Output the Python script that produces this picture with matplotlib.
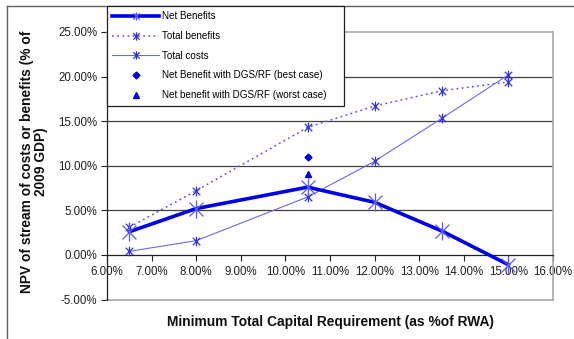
import matplotlib
matplotlib.use("Agg")
import matplotlib.pyplot as plt
from matplotlib.path import Path
from matplotlib.lines import Line2D
from matplotlib.ticker import FuncFormatter, MultipleLocator

plt.rcParams['font.family'] = ['Liberation Sans', 'DejaVu Sans']

# ---- data ----
capital_req = [6.5, 8.0, 10.5, 12.0, 13.5, 15.0]
net_benefits = [2.6, 5.2, 7.6, 5.9, 2.7, -1.1]
total_benefits = [3.1, 7.2, 14.3, 16.7, 18.4, 19.4]
total_costs = [0.4, 1.6, 6.5, 10.5, 15.3, 20.2]
dgs_x = [10.5]
dgs_best = [11.0]
dgs_worst = [9.1]
labels = ["Net Benefits", "Total benefits", "Total costs",
          "Net Benefit with DGS/RF (best case)",
          "Net benefit with DGS/RF (worst case)"]
xlabel = "Minimum Total Capital Requirement (as %of RWA)"
ylabel = "NPV of stream of costs or benefits (% of\n2009 GDP)"

W, H = 574, 339
fig = plt.figure(figsize=(W / 100, H / 100), dpi=100)
ax = fig.add_axes([107 / W, 1 - 299.5 / H, (553 - 107) / W, (299.5 - 32) / H])

star = Path([(-1, -1), (1, 1), (-1, 1), (1, -1), (0, -1.3), (0, 1.3)],
            [Path.MOVETO, Path.LINETO, Path.MOVETO, Path.LINETO, Path.MOVETO, Path.LINETO])

c_net = '#0000ee'
c_ben = '#5555e8'
c_cost = '#6a6ae6'
c_mk = '#3333dd'
dot = (0, (1.2, 2.2))

ax.plot(capital_req, net_benefits, color=c_net, lw=2.6, marker=star,
        markersize=13, markerfacecolor='none', markeredgecolor='#5a5af0',
        markeredgewidth=0.9, zorder=5)
ax.plot(capital_req, total_benefits, color=c_ben, lw=1.1, ls=dot,
        marker=star, markersize=7, markerfacecolor='none',
        markeredgecolor=c_mk, markeredgewidth=0.9, zorder=4)
ax.plot(capital_req, total_costs, color=c_cost, lw=0.8, marker=star,
        markersize=7, markerfacecolor='none', markeredgecolor=c_mk,
        markeredgewidth=0.9, zorder=4)
ax.plot(dgs_x, dgs_best, ls='none', marker='D', markersize=3.5,
        color='#0000dd', zorder=6)
ax.plot(dgs_x, dgs_worst, ls='none', marker='^', markersize=4.5,
        color='#0000dd', zorder=6)

ax.set_xlim(6, 16)
ax.set_ylim(-5, 25)
ax.xaxis.set_major_locator(MultipleLocator(1))
ax.yaxis.set_major_locator(MultipleLocator(5))
fmt = FuncFormatter(lambda v, p: f"{v:.2f}%")
ax.xaxis.set_major_formatter(fmt)
ax.yaxis.set_major_formatter(fmt)

for y in [5, 10, 15, 20]:
    ax.axhline(y, color='#404040', lw=0.9, zorder=1)

ax.spines['bottom'].set_position(('data', 0))
ax.spines['bottom'].set_color('#202020')
ax.spines['bottom'].set_linewidth(0.9)
ax.spines['left'].set_color('#202020')
ax.spines['left'].set_linewidth(0.9)
for s in ['top', 'right']:
    ax.spines[s].set_color('#a8a8a8')
    ax.spines[s].set_linewidth(1.2)
ax.add_line(Line2D([0, 1], [0, 0], transform=ax.transAxes, color='#a8a8a8', lw=1.2,
                   clip_on=False))

ax.tick_params(axis='both', direction='out', length=4, width=0.8, color='#202020',
               labelsize=8.3, labelcolor='#202020')
ax.tick_params(axis='x', pad=4)
ax.tick_params(axis='y', pad=3)

fig.text(330 / W, 1 - 322 / H, xlabel, ha='center', va='center', fontsize=9.9,
         fontweight='bold', color='#101010')
fig.text(34 / W, 1 - 162 / H, ylabel, ha='center', va='center', rotation=90,
         fontsize=9.9, fontweight='bold', color='#101010', linespacing=1.0,
         multialignment='center')

# legend proxies (smaller markers, as in the reference legend)
h1 = Line2D([], [], color=c_net, lw=2.6, marker=star, markersize=6,
            markerfacecolor='none', markeredgecolor='#5a5af0', markeredgewidth=0.9)
h2 = Line2D([], [], color=c_ben, lw=1.1, ls=dot, marker=star, markersize=6,
            markerfacecolor='none', markeredgecolor=c_mk, markeredgewidth=0.9)
h3 = Line2D([], [], color=c_cost, lw=0.8, marker=star, markersize=6,
            markerfacecolor='none', markeredgecolor=c_mk, markeredgewidth=0.9)
h4 = Line2D([], [], ls='none', marker='D', markersize=3.5, color='#0000dd')
h5 = Line2D([], [], ls='none', marker='^', markersize=4.5, color='#0000dd')

leg = fig.legend([h1, h2, h3, h4, h5], labels, loc='upper left',
                 bbox_to_anchor=(107 / W, 1 - 107 / H, (344 - 107) / W, 101 / H),
                 mode='expand', borderaxespad=0, fontsize=7.1, frameon=True,
                 fancybox=False, edgecolor='#202020', framealpha=1,
                 handlelength=4.7, handletextpad=0.35, labelspacing=0.98,
                 borderpad=0.55)
leg.get_frame().set_linewidth(0.9)

# outer chart border
fig.add_artist(Line2D([7 / W, 7 / W], [0, 1 - 6 / H], transform=fig.transFigure,
                      color='#606060', lw=1.0))
fig.add_artist(Line2D([7 / W, 1], [1 - 6 / H, 1 - 6 / H], transform=fig.transFigure,
                      color='#606060', lw=1.0))

fig.savefig("out.png", dpi=100)
